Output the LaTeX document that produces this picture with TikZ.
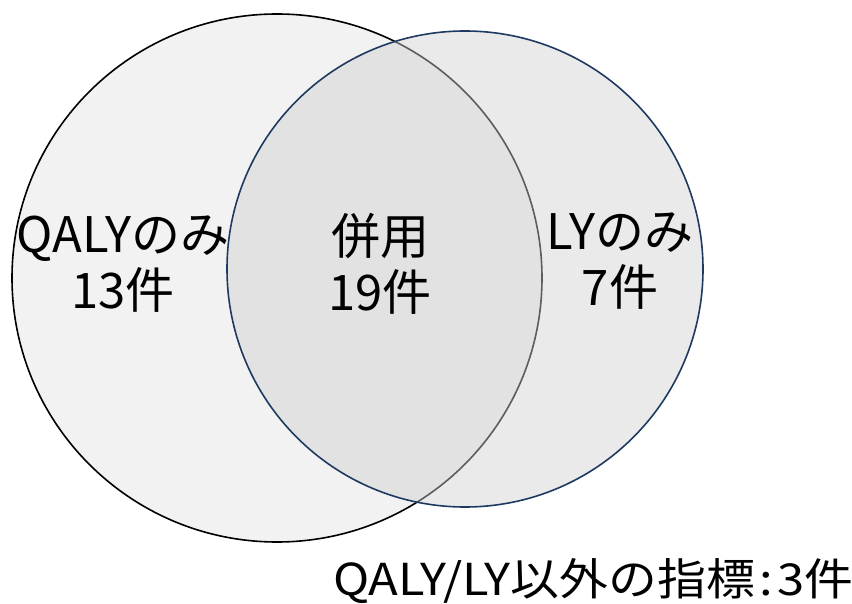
\documentclass[tikz,border=0pt]{standalone}
\usepackage{fontspec}
\setmainfont{Noto Sans CJK JP}
\definecolor{leftfill}{HTML}{F2F2F2}
\definecolor{rightfill}{HTML}{D0D0D0}
\definecolor{rightline}{HTML}{1F3A60}
\tikzset{
  lbl/.style={align=center, font=\fontsize{49}{56}\selectfont, inner sep=0pt},
  note/.style={font=\fontsize{44}{50}\selectfont, inner sep=0pt, xscale=1.11},
}
\begin{document}
\begin{tikzpicture}[x=1pt,y=-1pt]
\useasboundingbox (0,0) rectangle (852,604);
\fill[leftfill] (277,278) ellipse [x radius=265, y radius=264];
\draw[black, line width=1.6pt] (277,278) ellipse [x radius=265, y radius=264];
\fill[rightfill, opacity=0.45] (465,269) ellipse [x radius=238, y radius=238];
\draw[rightline, line width=1.6pt] (465,269) ellipse [x radius=238, y radius=238];
\node[lbl] (qaly) at (123,264) {QALYのみ\\13件};
\node[lbl] (both) at (380,264) {併用\\19件};
\node[lbl] (ly) at (620,261) {LYのみ\\7件};
\node[note, anchor=west] (other) at (333,581) {QALY/LY以外の指標\hspace{4pt}:\hspace{4pt}3件};
\end{tikzpicture}
\end{document}
